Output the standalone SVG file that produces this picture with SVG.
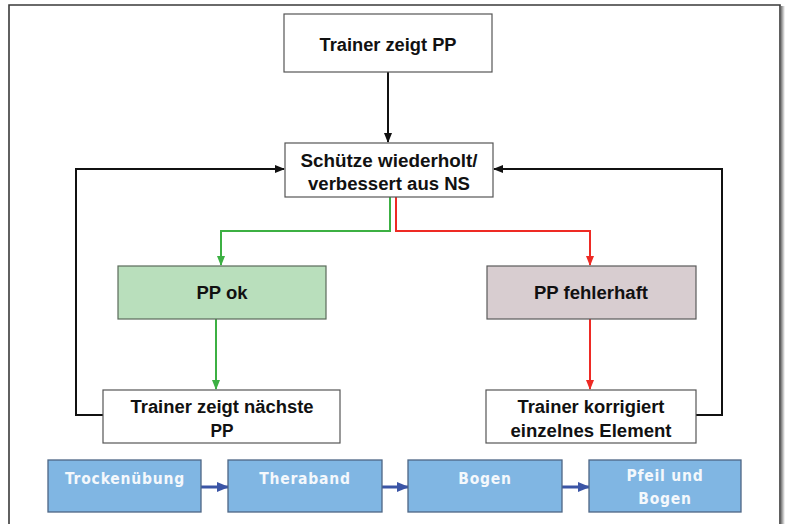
<svg xmlns="http://www.w3.org/2000/svg" width="785" height="524" viewBox="0 0 785 524">
<defs>
<style>
.box{fill:#ffffff;stroke:#555555;stroke-width:1.2}
.t{font-family:"Liberation Sans",Arial,sans-serif;font-weight:bold;font-size:18px;fill:#111111;text-anchor:middle}
.blue{fill:#80b6e3;stroke:#4d6685;stroke-width:1.3}
.bt{font-family:"DejaVu Sans Condensed","DejaVu Sans",sans-serif;font-weight:bold;font-size:15.5px;fill:#f4f8fc;text-anchor:middle;letter-spacing:0.8px}
.blk{fill:none;stroke:#111111;stroke-width:2}
.grn{fill:none;stroke:#3cb043;stroke-width:2}
.red{fill:none;stroke:#ee2a24;stroke-width:2}
.bar{fill:none;stroke:#3b55a6;stroke-width:3}
</style>
<marker id="ab" markerWidth="10" markerHeight="10" refX="9" refY="5" orient="auto" markerUnits="userSpaceOnUse"><path d="M0,1 L10,5 L0,9 Z" fill="#111111"/></marker>
<marker id="ag" markerWidth="10" markerHeight="10" refX="9" refY="5" orient="auto" markerUnits="userSpaceOnUse"><path d="M0,1 L10,5 L0,9 Z" fill="#3cb043"/></marker>
<marker id="ar" markerWidth="10" markerHeight="10" refX="9" refY="5" orient="auto" markerUnits="userSpaceOnUse"><path d="M0,1 L10,5 L0,9 Z" fill="#ee2a24"/></marker>
<marker id="au" markerWidth="12" markerHeight="12" refX="11" refY="6" orient="auto" markerUnits="userSpaceOnUse"><path d="M0,1 L12,6 L0,11 Z" fill="#3b55a6"/></marker>
<linearGradient id="sh" x1="0" x2="1" y1="0" y2="0"><stop offset="0" stop-color="#777777"/><stop offset="1" stop-color="#ffffff"/></linearGradient>
</defs>
<rect x="0" y="0" width="785" height="524" fill="#ffffff"/>
<g id="frame">
<rect x="781" y="6" width="4" height="518" fill="url(#sh)"/>
<path d="M9,526 L9,5 L780,5 L780,526" fill="none" stroke="#3a3a3a" stroke-width="1.6"/>
</g>
<g id="connectors">
<line class="blk" x1="388" y1="72" x2="388" y2="142" marker-end="url(#ab)"/>
<polyline class="grn" points="390,197 390,231 221,231 221,265" marker-end="url(#ag)"/>
<polyline class="red" points="396,197 396,231 590,231 590,265" marker-end="url(#ar)"/>
<line class="grn" x1="216" y1="319" x2="216" y2="389" marker-end="url(#ag)"/>
<line class="red" x1="590" y1="319" x2="590" y2="389" marker-end="url(#ar)"/>
<polyline class="blk" points="103,415 76,415 76,169 284,169" marker-end="url(#ab)"/>
<polyline class="blk" points="696,415 722,415 722,169 494,169" marker-end="url(#ab)"/>
<line class="bar" x1="201" y1="487" x2="228" y2="487" marker-end="url(#au)"/>
<line class="bar" x1="382" y1="487" x2="408" y2="487" marker-end="url(#au)"/>
<line class="bar" x1="562" y1="487" x2="589" y2="487" marker-end="url(#au)"/>
</g>
<g id="n1"><rect class="box" x="284" y="14" width="208" height="58"/><text class="t" x="388" y="51" textLength="137" lengthAdjust="spacingAndGlyphs">Trainer zeigt PP</text></g>
<g id="n2"><rect class="box" x="285" y="143" width="208" height="54"/><text class="t" x="389" y="167" textLength="177" lengthAdjust="spacingAndGlyphs">Schütze wiederholt/</text><text class="t" x="389" y="190" textLength="162" lengthAdjust="spacingAndGlyphs">verbessert aus NS</text></g>
<g id="n3"><rect x="118" y="266" width="208" height="53" fill="#b9dfbc" stroke="#5a6a5a" stroke-width="1.2"/><text class="t" x="222" y="299" textLength="51" lengthAdjust="spacingAndGlyphs">PP ok</text></g>
<g id="n4"><rect x="487" y="266" width="209" height="53" fill="#d8cdd0" stroke="#5a5a5a" stroke-width="1.2"/><text class="t" x="591" y="299" textLength="114" lengthAdjust="spacingAndGlyphs">PP fehlerhaft</text></g>
<g id="n5"><rect class="box" x="103" y="390" width="237" height="53"/><text class="t" x="222" y="413" textLength="183" lengthAdjust="spacingAndGlyphs">Trainer zeigt nächste</text><text class="t" x="222" y="437" textLength="23" lengthAdjust="spacingAndGlyphs">PP</text></g>
<g id="n6"><rect class="box" x="486" y="390" width="210" height="53"/><text class="t" x="591" y="413" textLength="147" lengthAdjust="spacingAndGlyphs">Trainer korrigiert</text><text class="t" x="591" y="437" textLength="161" lengthAdjust="spacingAndGlyphs">einzelnes Element</text></g>
<g id="b1"><rect class="blue" x="48" y="460" width="153" height="52"/><text class="bt" x="125" y="484">Trockenübung</text></g>
<g id="b2"><rect class="blue" x="228" y="460" width="154" height="52"/><text class="bt" x="305" y="484">Theraband</text></g>
<g id="b3"><rect class="blue" x="408" y="460" width="154" height="52"/><text class="bt" x="485" y="484">Bogen</text></g>
<g id="b4"><rect class="blue" x="589" y="460" width="152" height="52"/><text class="bt" x="665" y="481">Pfeil und</text><text class="bt" x="665" y="504">Bogen</text></g>
</svg>
